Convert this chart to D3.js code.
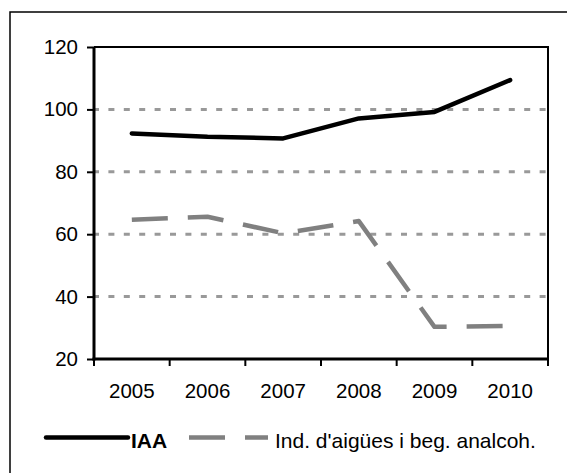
<!DOCTYPE html>
<html>
<head>
<meta charset="utf-8">
<script src="https://cdn.jsdelivr.net/npm/d3@7"></script>
<style>
  html, body { margin: 0; padding: 0; background: #fff; }
  svg { display: block; font-family: "Liberation Sans", Arial, sans-serif; }
</style>
</head>
<body>
<svg id="chart" width="567" height="473"></svg>
<script>
// Years on the category axis
const years = ["2005", "2006", "2007", "2008", "2009", "2010"];
// Index values per year
const iaaValues = [92.3, 91.2, 90.7, 97.1, 99.2, 109.4];
const aiguesValues = [64.6, 65.6, 60.3, 64.2, 30.3, 30.6];
// Value axis ticks
const yTicks = [20, 40, 60, 80, 100, 120];
const gridValues = [40, 60, 80, 100];
// Legend labels
const seriesNames = ["IAA", "Ind. d'aigües i beg. analcoh."];

const svg = d3.select("#chart");
const plot = { left: 94, right: 548, top: 47, bottom: 359 };

const x = d3.scaleBand().domain(years).range([plot.left, plot.right]).padding(0);
const y = d3.scaleLinear().domain([20, 120]).range([plot.bottom, plot.top]);

// Outer frame (open on the right and bottom edges of the page)
svg.append("rect")
  .attr("x", 10).attr("y", 12)
  .attr("width", 580).attr("height", 500)
  .attr("fill", "none").attr("stroke", "#000").attr("stroke-width", 1.5);

// Dotted horizontal gridlines
svg.append("g").selectAll("line").data(gridValues).join("line")
  .attr("x1", plot.left - 1).attr("x2", plot.right)
  .attr("y1", d => y(d)).attr("y2", d => y(d))
  .attr("stroke", "#999").attr("stroke-width", 3)
  .attr("stroke-dasharray", "6,9.4");

// Top and right border of the plot area
svg.append("path")
  .attr("d", `M${plot.left},${plot.top}H${plot.right}V${plot.bottom}`)
  .attr("fill", "none").attr("stroke", "#000").attr("stroke-width", 2);

// Value axis
const yAxis = svg.append("g")
  .attr("transform", `translate(${plot.left},0)`)
  .call(d3.axisLeft(y).tickValues(yTicks).tickSize(7).tickPadding(9).tickSizeOuter(0));
yAxis.select(".domain").attr("stroke", "#000").attr("stroke-width", 3)
  .attr("d", `M0,${plot.top}V${plot.bottom + 1.5}`);
yAxis.selectAll(".tick line").attr("stroke", "#000").attr("stroke-width", 2);
yAxis.selectAll(".tick text")
  .attr("font-size", "20.5px").attr("fill", "#000")
  .attr("font-family", "'Liberation Sans', Arial, sans-serif");

// Category axis: ticks on band boundaries, labels in band centres
const xAxis = svg.append("g").attr("transform", `translate(0,${plot.bottom})`);
xAxis.append("line")
  .attr("x1", plot.left - 1.5).attr("x2", plot.right + 1)
  .attr("stroke", "#000").attr("stroke-width", 3);
const boundaries = years.map(d => x(d)).concat([plot.right]);
xAxis.selectAll("line.tk").data(boundaries).join("line").attr("class", "tk")
  .attr("x1", d => d).attr("x2", d => d)
  .attr("y1", 0).attr("y2", 7)
  .attr("stroke", "#000").attr("stroke-width", 2);
xAxis.selectAll("text").data(years).join("text")
  .attr("x", d => x(d) + x.bandwidth() / 2)
  .attr("y", 39)
  .attr("text-anchor", "middle")
  .attr("font-size", "20.5px").attr("fill", "#000")
  .text(d => d);

// Series lines
const line = d3.line()
  .x((d, i) => x(years[i]) + x.bandwidth() / 2)
  .y(d => y(d));

svg.append("path").datum(aiguesValues)
  .attr("d", line)
  .attr("fill", "none").attr("stroke", "#808080").attr("stroke-width", 4.5)
  .attr("stroke-dasharray", "36,20").attr("stroke-linejoin", "round");

svg.append("path").datum(iaaValues)
  .attr("d", line)
  .attr("fill", "none").attr("stroke", "#000").attr("stroke-width", 4.5)
  .attr("stroke-linecap", "round").attr("stroke-linejoin", "round");

// Legend
const legend = svg.append("g");
legend.append("line")
  .attr("x1", 46).attr("x2", 128).attr("y1", 437.5).attr("y2", 437.5)
  .attr("stroke", "#000").attr("stroke-width", 4.5).attr("stroke-linecap", "round");
legend.append("text")
  .attr("x", 131).attr("y", 447.5)
  .attr("font-size", "21px").attr("font-weight", "bold").attr("fill", "#000")
  .text(seriesNames[0]);
legend.append("line")
  .attr("x1", 189).attr("x2", 268).attr("y1", 437.5).attr("y2", 437.5)
  .attr("stroke", "#808080").attr("stroke-width", 4.5)
  .attr("stroke-dasharray", "36,20");
legend.append("text")
  .attr("x", 275).attr("y", 447.5)
  .attr("font-size", "21px").attr("fill", "#000")
  .text(seriesNames[1]);
</script>
</body>
</html>
